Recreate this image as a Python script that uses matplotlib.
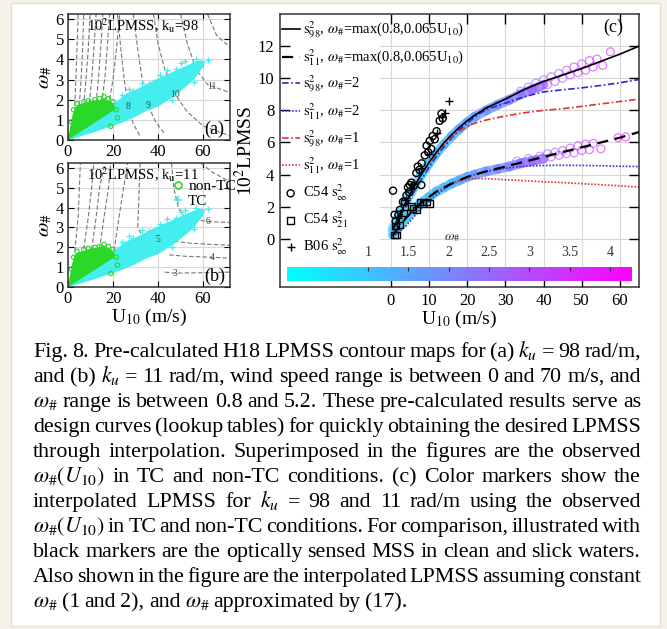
import numpy as np
import matplotlib
matplotlib.use('Agg')
import matplotlib.pyplot as plt
import matplotlib.patches as mpatches
from matplotlib.collections import LineCollection
from matplotlib.colors import Normalize
from matplotlib.cm import ScalarMappable
from matplotlib.lines import Line2D

plt.rcParams['font.family'] = 'serif'
plt.rcParams['font.serif'] = ['Liberation Serif', 'DejaVu Serif']
plt.rcParams['mathtext.fontset'] = 'stix'

# ---------------- data: panels (a) and (b) ----------------
# outline of the observed omega_# cloud (TC and non-TC)
tc_u = [0, 5, 10, 15, 20, 26, 32, 38, 45, 50, 54, 58, 61, 60, 56, 53, 47, 40, 35, 30, 25, 20, 10, 0]
tc_w = [0, 0.45, 0.9, 1.3, 1.75, 2.3, 2.6, 2.95, 3.3, 3.55, 3.75, 3.95, 3.9, 3.6, 3.0, 2.7, 2.15, 1.65, 1.45, 1.15, 0.9, 0.7, 0.33, 0]
ntc_u = [0, 1, 2, 3, 5, 8, 11, 14, 16, 17, 19, 20.5, 21, 21.5, 23, 20, 15, 10, 5, 0]
ntc_w = [0, 0.6, 1.2, 1.6, 1.75, 1.85, 1.95, 1.95, 2.1, 1.95, 1.9, 1.75, 1.4, 1.05, 0.85, 0.72, 0.55, 0.37, 0.18, 0]
wedge_u = [0, 10, 20, 22, 20, 10, 0]
wedge_w = [0, 0.72, 1.45, 1.35, 1.05, 0.5, 0]
tc_pts_u = [22, 24, 27, 29, 33, 36, 41, 44, 48, 50, 52, 55, 57, 59, 62, 56, 46]
tc_pts_w = [1.9, 2.25, 2.55, 2.45, 2.85, 2.8, 3.2, 3.45, 3.5, 3.8, 3.9, 3.7, 4.0, 3.85, 3.95, 2.9, 2.0]
ntc_pts_u = [2.5, 4, 7, 9, 12, 14, 16, 18, 20, 21.5, 22, 19, 1.5]
ntc_pts_w = [1.5, 1.8, 1.9, 1.95, 2.0, 2.05, 2.15, 2.05, 1.9, 1.5, 1.1, 0.68, 0.9]

# contour lines (u, w, label, label position)
cont_a = [
    ([3, 3.5, 4, 4.5], [1.7, 3, 4.5, 6.25], None, None),
    ([5, 5.8, 6.5, 7], [1.7, 3, 4.5, 6.25], None, None),
    ([7, 8, 9, 9.8], [1.7, 3, 4.5, 6.25], None, None),
    ([9.5, 10.5, 11.5, 12.5], [1.8, 3, 4.5, 6.25], None, None),
    ([12.5, 13.5, 14.5, 15.5], [1.8, 3, 4.5, 6.25], None, None),
    ([15, 16.5, 17.5, 18.5], [1.8, 3.2, 4.7, 6.25], None, None),
    ([18, 20, 21.5, 23], [1.7, 3, 4.5, 6.25], None, None),
    ([22, 23.5, 25, 26.7, 29, 32], [6.25, 4.5, 3, 1.67, 0.8, 0.2], '8', (26.7, 1.67)),
    ([29, 31, 33, 35.6, 39, 43], [6.25, 4.5, 3, 1.7, 0.9, 0.3], '9', (35.6, 1.7)),
    ([38, 40, 43, 47.6, 53, 60, 72], [6.25, 4.8, 3.5, 2.27, 1.4, 0.7, 0.2], '10', (47.6, 2.27)),
    ([50, 53, 57, 62, 72], [6.25, 4.8, 3.5, 2.75, 2.35], '11', (64, 2.65)),
    ([62, 66, 72], [6.25, 5.2, 4.6], None, None),
]
cont_b = [
    ([3, 4.5, 5.5], [1.8, 3.5, 6.25], None, None),
    ([7, 9, 10.5, 11.5], [1.9, 3.5, 5, 6.25], None, None),
    ([10.5, 12.5, 14, 16.5], [1.9, 3.5, 5, 6.25], None, None),
    ([14, 16, 18, 19], [1.9, 3.5, 5, 6.25], None, None),
    ([20, 22, 24, 26.5], [1.5, 3, 4.5, 6.25], None, None),
    ([32, 31.5, 31, 33, 40, 55, 72], [6.25, 4.5, 3, 2.55, 2.4, 2.2, 2.1], '5', (40, 2.4)),
    ([46, 47, 49, 52, 62, 72], [6.25, 5, 4, 3.5, 3.3, 3.25], '6', (62, 3.3)),
    ([45, 52, 64, 72], [1.62, 1.55, 1.5, 1.45], '4', (64, 1.5)),
    ([43, 47.5, 60, 72], [0.75, 0.7, 0.72, 0.75], '3', (47.5, 0.7)),
    ([59, 64, 72], [6.25, 5.8, 5.3], None, None),
]

# ---------------- data: panel (c) ----------------
c_u = [0.5, 2, 4, 6, 8, 10, 12, 14, 16, 18, 20, 22, 25, 30, 35, 40, 45, 50, 55, 60, 65]
s98_max = [0.6, 1.3, 2.3, 3.2, 4.0, 4.75, 5.4, 6.0, 6.5, 6.95, 7.35, 7.7, 8.15, 8.7, 9.3, 9.8, 10.2, 10.6, 11.05, 11.5, 12.0]
s98_w2 = [0.5, 1.1, 2.0, 2.9, 3.7, 4.45, 5.15, 5.75, 6.3, 6.8, 7.2, 7.6, 8.05, 8.45, 8.85, 9.15, 9.28, 9.4, 9.55, 9.72, 9.92]
s98_w1 = [0.6, 1.3, 2.3, 3.2, 4.0, 4.7, 5.35, 5.9, 6.35, 6.7, 7.0, 7.2, 7.4, 7.65, 7.85, 8.0, 8.1, 8.25, 8.4, 8.55, 8.7]
s11_max = [0.2, 0.7, 1.3, 1.8, 2.25, 2.6, 2.95, 3.2, 3.45, 3.65, 3.85, 4.0, 4.2, 4.5, 4.8, 5.1, 5.4, 5.7, 6.0, 6.3, 6.65]
s11_w2 = [0.1, 0.4, 0.8, 1.35, 1.9, 2.35, 2.75, 3.1, 3.4, 3.65, 3.85, 4.0, 4.2, 4.4, 4.52, 4.57, 4.58, 4.57, 4.55, 4.52, 4.5]
s11_w1 = [0.2, 0.7, 1.3, 1.8, 2.25, 2.6, 2.95, 3.2, 3.45, 3.6, 3.7, 3.75, 3.75, 3.68, 3.62, 3.55, 3.5, 3.43, 3.37, 3.3, 3.22]

band_u = [0.5, 2, 4, 6, 8, 10, 12, 14, 16, 18, 20, 22, 25, 28, 31, 34, 37, 40]
band_w = [0.8, 0.8, 0.85, 0.9, 0.95, 1.0, 1.1, 1.2, 1.3, 1.4, 1.5, 1.6, 1.8, 1.95, 2.1, 2.3, 2.5, 2.7]
band98 = [0.6, 1.3, 2.3, 3.2, 4.0, 4.7, 5.35, 5.9, 6.4, 6.85, 7.25, 7.6, 8.0, 8.35, 8.65, 9.0, 9.3, 9.6]
band11 = [0.25, 0.7, 1.3, 1.8, 2.25, 2.6, 2.95, 3.2, 3.45, 3.65, 3.85, 4.0, 4.2, 4.35, 4.5, 4.7, 4.85, 5.0]

circ98_u = [34, 36, 37, 38, 39, 40, 41, 42, 43, 44, 45, 46, 47, 48, 49, 50, 51, 52, 53, 54, 55.5, 57.5]
circ98_v = [9.2, 9.45, 9.3, 9.7, 9.45, 9.9, 9.6, 10.1, 9.8, 10.3, 10.0, 10.5, 10.2, 10.7, 10.35, 10.9, 10.5, 11.1, 10.7, 11.2, 10.8, 11.65]
circ98_w = [2.4, 2.5, 2.6, 2.6, 2.7, 2.7, 2.8, 2.9, 2.9, 3.0, 3.0, 3.1, 3.2, 3.3, 3.3, 3.4, 3.4, 3.5, 3.6, 3.7, 3.8, 3.9]
circ11_u = [33, 35, 36, 38, 39, 40, 41, 42, 43, 44, 45, 46, 47, 48, 49, 50, 51, 52, 53, 55, 59.5, 61.5]
circ11_v = [4.85, 4.75, 5.0, 4.9, 5.15, 5.0, 5.3, 5.1, 5.4, 5.2, 5.5, 5.3, 5.65, 5.35, 5.8, 5.5, 5.9, 5.55, 5.95, 5.6, 6.3, 6.35]
circ11_w = [2.4, 2.5, 2.5, 2.6, 2.7, 2.7, 2.8, 2.9, 2.9, 3.0, 3.0, 3.1, 3.2, 3.3, 3.3, 3.4, 3.4, 3.5, 3.6, 3.7, 3.9, 4.0]

c54_inf_u = [0.6, 1.0, 1.3, 2.4, 3.2, 3.7, 4.1, 4.5, 5.0, 5.4, 6.0, 6.7, 7.1, 8.0, 8.1, 8.9, 9.4, 9.8, 10.2, 10.6, 11.0, 11.5, 12.0, 12.8, 13.3, 13.6, 2.0, 4.8, 7.5]
c54_inf_v = [3.0, 1.5, 1.1, 1.8, 2.3, 2.3, 2.7, 3.2, 3.35, 3.5, 3.3, 4.1, 4.5, 3.35, 4.7, 5.2, 5.8, 5.4, 6.1, 5.6, 6.4, 6.2, 6.7, 7.35, 7.8, 7.5, 1.5, 2.9, 4.3]
c54_21_u = [1.0, 1.5, 2.4, 3.4, 5.4, 5.8, 6.7, 7.6, 8.4, 9.4, 10.2, 1.3]
c54_21_v = [0.25, 0.25, 0.85, 1.6, 2.0, 1.9, 1.8, 2.3, 2.2, 2.3, 2.2, 0.8]
b06_u = [2.0, 4.0, 6.0, 8.0, 10.0, 12.0, 13.5, 14.2, 15.2]
b06_v = [1.3, 2.4, 3.4, 4.4, 5.3, 6.6, 7.6, 7.85, 8.6]

cb_ticks = [1, 1.5, 2, 2.5, 3, 3.5, 4]

caption = [
    'Fig. 8. Pre-calculated H18 LPMSS contour maps for (a) $k_u$ = 98 rad/m,',
    'and (b) $k_u$ = 11 rad/m, wind speed range is between 0 and 70 m/s, and',
    r'$\omega_\#$ range is between 0.8 and 5.2. These pre-calculated results serve as',
    'design curves (lookup tables) for quickly obtaining the desired LPMSS',
    'through interpolation. Superimposed in the figures are the observed',
    r'$\omega_\#(U_{10})$ in TC and non-TC conditions. (c) Color markers show the',
    'interpolated LPMSS for $k_u$ = 98 and 11 rad/m using the observed',
    r'$\omega_\#(U_{10})$ in TC and non-TC conditions. For comparison, illustrated with',
    'black markers are the optically sensed MSS in clean and slick waters.',
    'Also shown in the figure are the interpolated LPMSS assuming constant',
    r'$\omega_\#$ (1 and 2), and $\omega_\#$ approximated by (17).',
]

# ---------------- figure ----------------
W, H = 667, 629
fig = plt.figure(figsize=(W / 100, H / 100), dpi=100, facecolor='#f4f1e8')
fig.patches.append(mpatches.Rectangle((11 / W, 1 - 626 / H), 649 / W, 623 / H,
                                      transform=fig.transFigure, fc='white',
                                      ec='#e4e0d2', lw=1, zorder=-10))


def rect(l, t, r, b):
    return [l / W, 1 - b / H, (r - l) / W, (b - t) / H]


axa = fig.add_axes(rect(68, 14, 230, 140))
axb = fig.add_axes(rect(68, 163, 230, 287))
axc = fig.add_axes(rect(280, 14, 639, 287))

green = '#2ad82a'
cyan = '#44eeee'


def draw_ab(ax, conts, title, tag):
    ax.set_xlim(0, 72)
    ax.set_ylim(0, 6.25)
    ax.set_xticks([0, 20, 40, 60])
    ax.set_yticks(range(7))
    ax.grid(color='#d8d8d8', lw=0.8)
    ax.set_axisbelow(True)
    ax.tick_params(direction='in', top=True, right=True, length=4, labelsize=12, pad=3)
    for s in ax.spines.values():
        s.set_linewidth(1.1)
        s.set_color('#333333')
    for u, w, lab, pos in conts:
        ax.plot(u, w, color='#777777', lw=0.8, ls=(0, (4, 2)), zorder=1.5)
    ax.fill(ntc_u, ntc_w, color=green, lw=0, zorder=2)
    ax.fill(tc_u, tc_w, color=cyan, lw=0, zorder=2.1)
    ax.fill(ntc_u[:13], ntc_w[:13], color=green, lw=0, zorder=2.15)
    ax.fill(wedge_u, wedge_w, color=cyan, lw=0, zorder=2.2)
    ax.scatter(ntc_pts_u, ntc_pts_w, s=10, marker='o', facecolors='none',
               edgecolors=green, lw=0.8, zorder=2.3)
    ax.scatter(tc_pts_u, tc_pts_w, s=14, marker='+', color=cyan, lw=0.9, zorder=2.3)
    for u, w, lab, pos in conts:
        if lab:
            ax.text(pos[0], pos[1], lab, fontsize=7, color='#444444', ha='center',
                    va='center', zorder=3)
    ax.text(0.46, 0.91, title, transform=ax.transAxes, ha='center', va='center', fontsize=10.5)
    ax.text(0.905, 0.085, tag, transform=ax.transAxes, ha='center', va='center', fontsize=13)
    ax.set_ylabel(r'$\omega_\#$', fontsize=15, labelpad=1)


draw_ab(axa, cont_a, r'10$^2$LPMSS, k$_\mathrm{u}$=98', '(a)')
draw_ab(axb, cont_b, r'10$^2$LPMSS, k$_\mathrm{u}$=11', '(b)')
axb.set_xlabel(r'U$_{10}$ (m/s)', fontsize=14, labelpad=0)
axb.legend(handles=[Line2D([], [], marker='o', mfc='none', mec=green, ls='none', ms=5, mew=1.2),
                    Line2D([], [], marker='+', color=cyan, ls='none', ms=6, mew=1.2)],
           labels=['non-TC', 'TC'], loc='upper left', bbox_to_anchor=(0.6, 0.93),
           frameon=False, fontsize=11, handlelength=0.7, handletextpad=0.3,
           labelspacing=0.1, borderpad=0)

# ---------------- panel (c) ----------------
norm = Normalize(0.0, 4.27)
cmap = plt.get_cmap('cool')
axc.set_xlim(-29, 65)
axc.set_ylim(-3, 14)
xt = [0, 10, 20, 30, 40, 50, 60]
yt = [0, 2, 4, 6, 8, 10, 12]
axc.set_xticks(xt)
axc.set_yticks(yt)
for x in xt:
    axc.axvline(x, color='#d8d8d8', lw=0.8, zorder=0.5)
axc.hlines(yt, -3, 65, color='#d8d8d8', lw=0.8, zorder=0.5)
axc.tick_params(direction='in', top=True, right=True, length=7, width=1, labelsize=12, pad=4)
for s in axc.spines.values():
    s.set_linewidth(1.1)
    s.set_color('#333333')


def band(ax, u, v, w):
    pts = np.column_stack([u, v])
    segs = np.stack([pts[:-1], pts[1:]], axis=1)
    mid = (np.array(w[:-1]) + np.array(w[1:])) / 2
    lc = LineCollection(segs, colors=cmap(norm(mid)), lw=7, alpha=0.75,
                        capstyle='round', zorder=1)
    ax.add_collection(lc)


band(axc, band_u, band98, band_w)
band(axc, band_u, band11, band_w)
axc.scatter(circ98_u, circ98_v, s=32, facecolors='none', edgecolors=cmap(norm(circ98_w)),
            lw=0.9, alpha=0.6, zorder=1.2)
axc.scatter(circ11_u, circ11_v, s=32, facecolors='none', edgecolors=cmap(norm(circ11_w)),
            lw=0.9, alpha=0.6, zorder=1.2)

lab_max = r'$\omega_\#$=max(0.8,0.065U$_{10}$)'
axc.plot(c_u, s98_max, color='k', lw=1.2, zorder=3,
         label=r'$\mathrm{s}^2_{98}$, ' + lab_max)
axc.plot(c_u, s11_max, color='k', lw=1.6, ls=(0, (5, 3)), zorder=3,
         label=r'$\mathrm{s}^2_{11}$, ' + lab_max)
axc.plot(c_u, s98_w2, color='#2a2ac8', lw=1.2, ls=(0, (4, 1.5, 1, 1.5)), zorder=2.5,
         label=r'$\mathrm{s}^2_{98}$, $\omega_\#$=2')
axc.plot(c_u, s11_w2, color='#3434d0', lw=1.2, ls=(0, (1, 1)), zorder=2.5,
         label=r'$\mathrm{s}^2_{11}$, $\omega_\#$=2')
axc.plot(c_u, s98_w1, color='#e03434', lw=1.2, ls=(0, (4, 1.5, 1, 1.5)), zorder=2.5,
         label=r'$\mathrm{s}^2_{98}$, $\omega_\#$=1')
axc.plot(c_u, s11_w1, color='#e03434', lw=1.2, ls=(0, (1, 1)), zorder=2.5,
         label=r'$\mathrm{s}^2_{11}$, $\omega_\#$=1')
axc.scatter(c54_inf_u, c54_inf_v, s=26, marker='o', facecolors='none', edgecolors='k',
            lw=1.0, zorder=4, label=r'C54 $\mathrm{s}^2_\infty$')
axc.scatter(c54_21_u, c54_21_v, s=22, marker='s', facecolors='none', edgecolors='k',
            lw=1.0, zorder=4, label=r'C54 $\mathrm{s}^2_{21}$')
axc.scatter(b06_u, b06_v, s=30, marker='+', color='k', lw=1.0, zorder=4,
            label=r'B06 $\mathrm{s}^2_\infty$')
axc.legend(loc='upper left', bbox_to_anchor=(-0.012, 1.0), frameon=False, fontsize=10.5,
           handlelength=1.25, handletextpad=0.25, labelspacing=0.42, borderaxespad=0,
           scatterpoints=1)
axc.text(0.928, 0.952, '(c)', transform=axc.transAxes, ha='center', va='center', fontsize=13)
axc.set_xlabel(r'U$_{10}$ (m/s)', fontsize=14, labelpad=0)
axc.set_ylabel(r'10$^2$LPMSS', fontsize=14, labelpad=1)

cax = fig.add_axes(rect(287, 267, 632, 281))
cb = fig.colorbar(ScalarMappable(norm=norm, cmap=cmap), cax=cax, orientation='horizontal')
cb.outline.set_visible(False)
cax.xaxis.set_ticks_position('top')
cb.set_ticks(cb_ticks)
cb.set_ticklabels(['1', '1.5', '2', '2.5', '3', '3.5', '4'])
cax.tick_params(direction='in', length=3, width=0.8, labelsize=10, pad=6, colors='#333333')
fig.text(452 / W, 1 - 238 / H, r'$\omega_\#$', fontsize=10, color='#333333',
         ha='center', va='center')

# ---------------- caption (justified) ----------------
renderer = fig.canvas.get_renderer()
x0, x1 = 33, 641
for i, line in enumerate(caption):
    yb = 1 - (357 + 25 * i) / H
    words = line.split(' ')
    fs = 15.8
    while True:
        ts = [fig.text(0, yb, w, fontsize=fs, va='baseline', ha='left') for w in words]
        ws = [t.get_window_extent(renderer).width for t in ts]
        gap = (x1 - x0 - sum(ws)) / (len(ws) - 1)
        if gap >= 2.8 or i == len(caption) - 1:
            break
        for t in ts:
            t.remove()
        fs -= 0.3
    if i == len(caption) - 1:
        gap = 4.3
    x = x0
    for t, w in zip(ts, ws):
        t.set_x(x / W)
        x += w + gap

fig.savefig('out.png', dpi=100, facecolor=fig.get_facecolor())
